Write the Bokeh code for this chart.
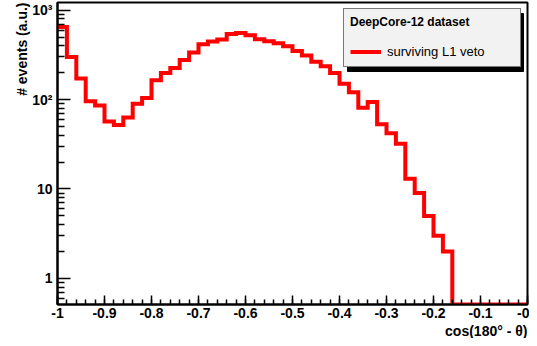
import numpy as np
from bokeh.plotting import figure
from bokeh.models import (Range1d, FixedTicker, BasicTickFormatter, Legend, LegendItem,
                          BoxAnnotation, Title)
from bokeh.embed import file_html
from bokeh.resources import INLINE

# ---------------- data ----------------
bin_low = -1.0
bin_width = 0.02
counts = [650, 300, 172, 96, 86, 57, 52, 63, 90, 104,
          165, 199, 225, 277, 336, 417, 447, 470, 542, 556,
          526, 473, 449, 428, 394, 350, 312, 265, 236, 199,
          150, 121, 81, 94, 53, 42, 32, 13, 9, 5,
          3, 2, 0, 0, 0, 0, 0, 0, 0, 0]
x_ticks = [-1.0, -0.9, -0.8, -0.7, -0.6, -0.5, -0.4, -0.3, -0.2, -0.1, 0.0]
x_tick_labels = ["-1", "-0.9", "-0.8", "-0.7", "-0.6", "-0.5", "-0.4", "-0.3", "-0.2", "-0.1", "-0"]
y_ticks = [1, 10, 100, 1000]
y_tick_labels = ["1", "10", "10²", "10³"]
x_min, x_max = -1.0, 0.0
y_min, y_max = 0.51, 1220.0
x_title = "cos(180° - θ)"
y_title = "# events (a.u.)"
legend_title = "DeepCore-12 dataset"
series_label = "surviving L1 veto"

# ---------------- geometry of the step outline ----------------
n = len(counts)
edges = bin_low + bin_width * np.arange(n + 1)
shown = np.maximum(np.array(counts, dtype=float), y_min)  # empty bins drawn on the floor (ROOT style)
xs = np.repeat(edges, 2)[1:-1]
ys = np.repeat(shown, 2)

FONT = "Liberation Sans"

p = figure(width=529, height=338, output_backend="svg", toolbar_location=None,
           y_axis_type="log", x_range=Range1d(x_min, x_max), y_range=Range1d(y_min, y_max),
           min_border_left=57, min_border_right=2, min_border_top=2, min_border_bottom=34)
p.grid.visible = False
p.outline_line_color = "black"
p.outline_line_width = 2
p.background_fill_color = "white"
p.border_fill_color = "white"

r = p.line(xs, ys, line_color="#ff0000", line_width=4, line_join="miter")

# x axis
xa = p.xaxis[0]
xa.ticker = FixedTicker(ticks=x_ticks,
                        minor_ticks=[bin_low + bin_width * i for i in range(n + 1)])
xa.formatter = BasicTickFormatter()
xa.major_label_overrides = {t: l for t, l in zip(x_ticks, x_tick_labels)}
# y axis
ya = p.yaxis[0]
minor_y = [m * 10.0 ** e for e in range(-1, 4) for m in range(2, 10) if y_min <= m * 10.0 ** e <= y_max]
ya.ticker = FixedTicker(ticks=y_ticks, minor_ticks=minor_y)
ya.formatter = BasicTickFormatter()
ya.major_label_overrides = {t: l for t, l in zip(y_ticks, y_tick_labels)}

for ax in (xa, ya):
    ax.axis_line_color = "black"
    ax.axis_line_width = 2
    ax.major_tick_line_color = "black"
    ax.minor_tick_line_color = "black"
    ax.major_tick_line_width = 1.5
    ax.minor_tick_line_width = 1.5
    ax.major_tick_out = 0
    ax.minor_tick_out = 0
    ax.major_label_text_font = FONT
    ax.major_label_text_font_style = "bold"
    ax.major_label_text_font_size = "14px"
    ax.major_label_text_color = "black"

xa.major_tick_in = 9
xa.minor_tick_in = 5
xa.major_label_standoff = 3
ya.major_tick_in = 13
ya.minor_tick_in = 7
ya.major_label_standoff = 5

# axis titles, right-aligned at the ends of the axes (ROOT style)
p.add_layout(Title(text=x_title, align="right", standoff=0, offset=0, text_font=FONT,
                   text_font_style="bold", text_font_size="14px", text_color="black"), "below")
p.add_layout(Title(text=y_title, align="right", standoff=0, offset=0, text_font=FONT,
                   text_font_style="bold", text_font_size="14px", text_color="black"), "left")

# legend shadow + legend (screen units relative to the frame's bottom-left)
shadow = BoxAnnotation(left=290, right=466, bottom=233, top=291,
                       left_units="screen", right_units="screen",
                       bottom_units="screen", top_units="screen",
                       fill_color="black", fill_alpha=1.0, line_color="black", line_alpha=1.0)
p.add_layout(shadow)

legend = Legend(items=[LegendItem(label=series_label, renderers=[r])],
                title=legend_title, location=(286, 237))
legend.border_line_color = "black"
legend.border_line_width = 1.5
legend.background_fill_color = "#f2f2f2"
legend.background_fill_alpha = 1.0
legend.padding = 6
legend.spacing = 0
legend.margin = 0
legend.glyph_width = 31
legend.glyph_height = 17
legend.label_standoff = 6
legend.label_width = 127
legend.label_height = 17
legend.title_standoff = 14
legend.label_text_font = FONT
legend.label_text_font_size = "13px"
legend.label_text_color = "black"
legend.title_text_font = FONT
legend.title_text_font_style = "bold"
legend.title_text_font_size = "12px"
legend.title_text_color = "black"
p.add_layout(legend)

open("out.html", "w").write(file_html(p, INLINE))
